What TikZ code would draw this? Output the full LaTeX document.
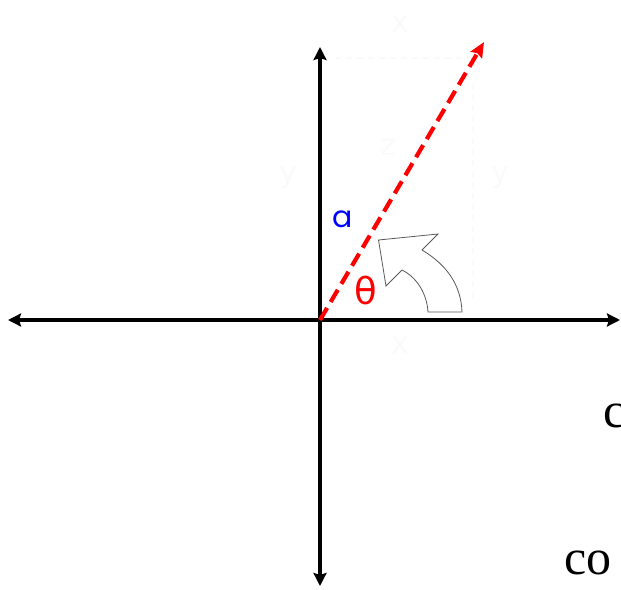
\documentclass[tikz,border=0pt]{standalone}
\usepackage{fontspec}
\setmainfont{Liberation Serif}
\newfontfamily\popfont{Poppins}
\newfontfamily\djfont{DejaVu Sans}
\usetikzlibrary{arrows.meta}
\tikzset{
  axisline/.style={line width=4pt,
    {Stealth[length=13pt,width=13pt,inset=2pt]}-{Stealth[length=13pt,width=13pt,inset=2pt]}},
  vecline/.style={red, line width=4.2pt, dash pattern=on 14pt off 7pt,
    -{Stealth[length=15pt,width=13pt,inset=2pt]}},
  faintline/.style={black!2, line width=1.5pt, dash pattern=on 6pt off 5pt},
  fainttext/.style={text=black!2, font=\djfont\fontsize{30}{30}\selectfont, inner sep=0pt},
  bigtext/.style={font=\fontsize{50}{50}\selectfont, inner sep=0pt, anchor=base west},
  blockarrow/.style={draw=black!65, line width=0.8pt, fill=white, line join=miter},
}
\begin{document}
\begin{tikzpicture}[x=1pt,y=-1pt]
\useasboundingbox (0,0) rectangle (621,589);
% faint hidden marks
\draw[faintline] (335,58) -- (473,58);
\draw[faintline] (473,83) -- (473,300);
\node[fainttext] (fx1) at (400,24) {x};
\node[fainttext] (fy1) at (288,177) {y};
\node[fainttext] (fz) at (388,147) {z};
\node[fainttext] (fy2) at (500,177) {y};
\node[fainttext] (fx2) at (400,345) {x};
% axes
\coordinate (O) at (320,320);
\coordinate (L) at (8,320);
\coordinate (R) at (620,320);
\coordinate (T) at (320,47);
\coordinate (B) at (320,586);
\draw[axisline] (L) -- (R);
\draw[axisline] (B) -- (T);
% vector
\coordinate (V) at (484,42);
\draw[vecline] (O) -- (V);
% rotation block arrow
\draw[blockarrow] (378.5,240) -- (438,234) -- (422,250)
  .. controls (447,265) and (461,285) .. (462,312)
  -- (428,312)
  .. controls (427,295) and (418,278) .. (402,270)
  -- (386,286) -- cycle;
% labels
\node[blue, font=\popfont\fontsize{30}{30}\selectfont, inner sep=0pt] (alab) at (343,219) {a};
\node[red, font=\djfont\fontsize{37}{37}\selectfont, inner sep=0pt] (theta) at (366,291) {θ};
% clipped text on the right
\node[bigtext] (c1) at (603,427) {c};
\node[bigtext] (c2) at (564,574) {co};
\end{tikzpicture}
\end{document}
